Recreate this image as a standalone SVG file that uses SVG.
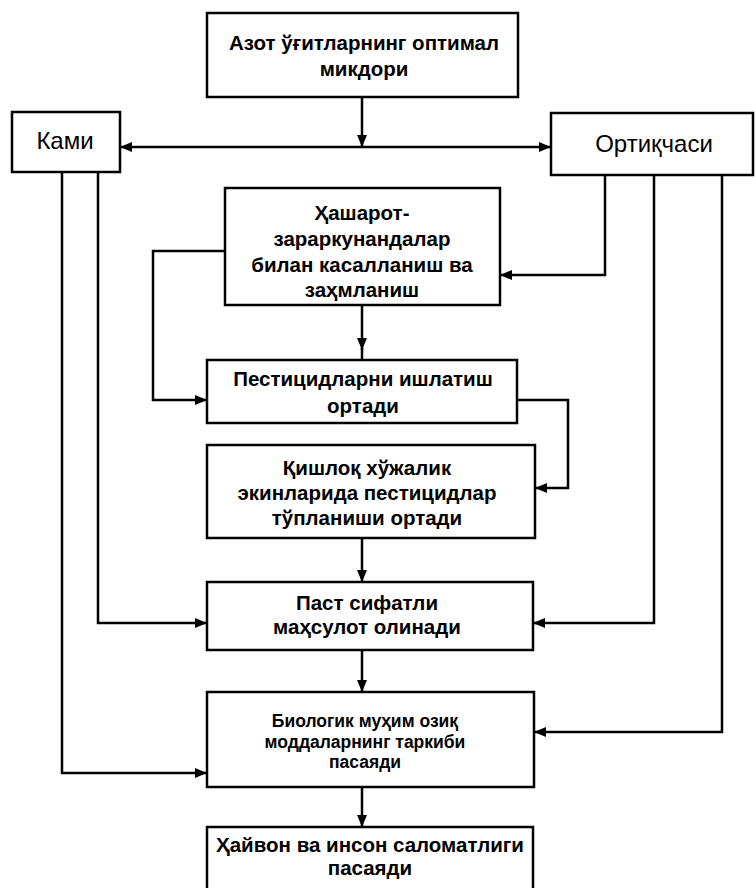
<svg xmlns="http://www.w3.org/2000/svg" width="756" height="888" viewBox="0 0 756 888">
  <style>
    .box { fill: #fff; stroke: #000; stroke-width: 2.5; }
    .lbl { font-family: "Liberation Sans", Arial, sans-serif; font-weight: bold; font-size: 20.5px; text-anchor: middle; fill: #000; }
    .big { font-size: 24px; font-weight: normal; }
    .small { font-size: 17.5px; }
    .wire { fill: none; stroke: #000; stroke-width: 2.5; }
  </style>
  <defs>
    <marker id="arrow" viewBox="0 0 12 10" refX="12" refY="5" markerWidth="12" markerHeight="10" markerUnits="userSpaceOnUse" orient="auto">
      <path d="M0,0 L12,5 L0,10 Z" fill="#000"/>
    </marker>
  </defs>
  <rect width="756" height="888" fill="#fff"/>

  <!-- connectors -->
  <g id="connectors">
    <path class="wire" d="M362,97 V147" marker-end="url(#arrow)"/>
    <path class="wire" d="M362,147 H120" marker-end="url(#arrow)"/>
    <path class="wire" d="M362,147 H551" marker-end="url(#arrow)"/>
    <path class="wire" d="M98,172 V623 H207" marker-end="url(#arrow)"/>
    <path class="wire" d="M62,172 V773 H207" marker-end="url(#arrow)"/>
    <path class="wire" d="M605,175 V275 H500" marker-end="url(#arrow)"/>
    <path class="wire" d="M654,175 V623 H533" marker-end="url(#arrow)"/>
    <path class="wire" d="M722,175 V732 H534" marker-end="url(#arrow)"/>
    <path class="wire" d="M225,251 H153 V400 H207" marker-end="url(#arrow)"/>
    <path class="wire" d="M517,400 H568 V488 H535" marker-end="url(#arrow)"/>
    <path class="wire" d="M362,305 V350" marker-end="url(#arrow)"/>
    <path class="wire" d="M362,348 V360"/>
    <path class="wire" d="M362,538 V582" marker-end="url(#arrow)"/>
    <path class="wire" d="M362,650 V692" marker-end="url(#arrow)"/>
    <path class="wire" d="M362,787 V827" marker-end="url(#arrow)"/>
  </g>

  <g id="n-norm">
    <rect class="box" x="207" y="13" width="311" height="84"/>
    <text class="lbl" x="364" y="50">Азот ўғитларнинг оптимал</text>
    <text class="lbl" x="364" y="76">микдори</text>
  </g>
  <g id="n-low">
    <rect class="box" x="12" y="112" width="108" height="60"/>
    <text class="lbl big" x="65" y="149">Ками</text>
  </g>
  <g id="n-excess">
    <rect class="box" x="551" y="113" width="202" height="62"/>
    <text class="lbl big" x="654" y="152">Ортиқчаси</text>
  </g>
  <g id="n-pests">
    <rect class="box" x="225" y="188" width="275" height="117"/>
    <text class="lbl" x="362" y="220">Ҳашарот-</text>
    <text class="lbl" x="362" y="246">зараркунандалар</text>
    <text class="lbl" x="362" y="272">билан касалланиш ва</text>
    <text class="lbl" x="362" y="297">заҳмланиш</text>
  </g>
  <g id="n-pesticide-use">
    <rect class="box" x="207" y="360" width="310" height="63"/>
    <text class="lbl" x="363" y="386">Пестицидларни ишлатиш</text>
    <text class="lbl" x="363" y="413">ортади</text>
  </g>
  <g id="n-accumulation">
    <rect class="box" x="207" y="445" width="328" height="93"/>
    <text class="lbl" x="367" y="475">Қишлоқ хўжалик</text>
    <text class="lbl" x="367" y="500">экинларида пестицидлар</text>
    <text class="lbl" x="367" y="525">тўпланиши ортади</text>
  </g>
  <g id="n-quality">
    <rect class="box" x="207" y="582" width="326" height="68"/>
    <text class="lbl" x="367" y="610">Паст сифатли</text>
    <text class="lbl" x="367" y="634">маҳсулот олинади</text>
  </g>
  <g id="n-nutrients">
    <rect class="box" x="207" y="692" width="327" height="95"/>
    <text class="lbl small" x="365" y="727">Биологик муҳим озиқ</text>
    <text class="lbl small" x="365" y="748">моддаларнинг таркиби</text>
    <text class="lbl small" x="365" y="768">пасаяди</text>
  </g>
  <g id="n-health">
    <rect class="box" x="207" y="827" width="326" height="64"/>
    <text class="lbl" x="370" y="852">Ҳайвон ва инсон саломатлиги</text>
    <text class="lbl" x="370" y="875">пасаяди</text>
  </g>
</svg>
